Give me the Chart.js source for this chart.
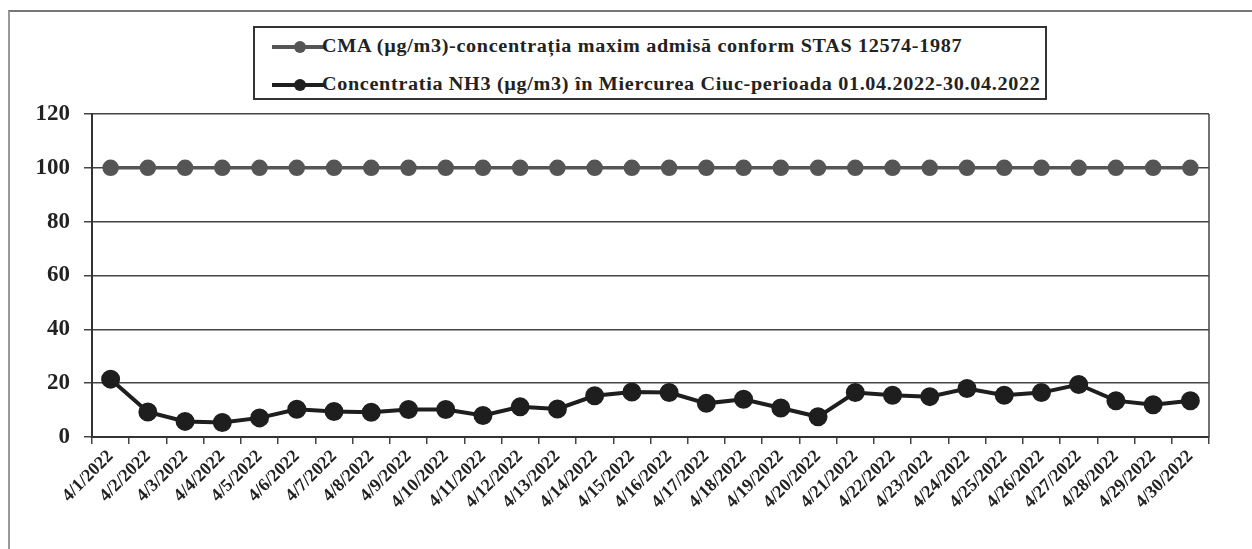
<!DOCTYPE html>
<html>
<head>
<meta charset="utf-8">
<script src="https://cdn.jsdelivr.net/npm/chart.js@4/dist/chart.umd.min.js"></script>
<style>
  html, body { margin: 0; padding: 0; background: #fff; }
  #wrap { position: relative; width: 1252px; height: 549px; overflow: hidden; background: #fff; }
  #frame { position: absolute; left: 8px; top: 10px; width: 1260px; height: 560px; border-top: 2px solid #777; border-left: 2px solid #999; }
  canvas { position: absolute; left: 0; top: 0; }
  #legend { position: absolute; left: 253px; top: 26px; width: 794px; height: 74px; box-sizing: border-box; border: 2px solid #333; background: #fff;
            font-family: "Liberation Serif", "Times New Roman", serif; font-weight: bold; font-size: 18px; color: #222; }
  .row { position: absolute; left: 0; height: 20px; width: 100%; }
  .ln { position: absolute; left: 17px; top: 8px; width: 52px; height: 4px; }
  .mk { position: absolute; left: 39px; top: 4px; width: 12px; height: 12px; border-radius: 50%; }
  .tx { position: absolute; left: 67px; top: -1px; white-space: nowrap; letter-spacing: 0.6px; transform: scaleX(1.12); transform-origin: left center; }
</style>
</head>
<body>
<div id="wrap">
  <div id="frame"></div>
  <canvas id="c" width="1252" height="549"></canvas>
  <div id="legend">
    <div class="row" style="top:9px"><div class="ln" style="background:#555"></div><div class="mk" style="background:#555"></div><div class="tx" id="t1"></div></div>
    <div class="row" style="top:47px"><div class="ln" style="background:#1e1e1e"></div><div class="mk" style="background:#1e1e1e"></div><div class="tx" id="t2"></div></div>
  </div>
</div>
<script>
const seriesNames = [
  "CMA (µg/m3)-concentrația maxim admisă conform STAS 12574-1987",
  "Concentratia NH3 (µg/m3) în Miercurea Ciuc-perioada 01.04.2022-30.04.2022"
];
const categories = ["4/1/2022","4/2/2022","4/3/2022","4/4/2022","4/5/2022","4/6/2022","4/7/2022","4/8/2022","4/9/2022","4/10/2022",
  "4/11/2022","4/12/2022","4/13/2022","4/14/2022","4/15/2022","4/16/2022","4/17/2022","4/18/2022","4/19/2022","4/20/2022",
  "4/21/2022","4/22/2022","4/23/2022","4/24/2022","4/25/2022","4/26/2022","4/27/2022","4/28/2022","4/29/2022","4/30/2022"];
const cmaValues = [100,100,100,100,100,100,100,100,100,100,100,100,100,100,100,100,100,100,100,100,100,100,100,100,100,100,100,100,100,100];
const nh3Values = [21.5,9.3,5.8,5.4,7.1,10.3,9.5,9.2,10.2,10.2,8.0,11.2,10.4,15.3,16.7,16.5,12.5,14.0,10.8,7.5,16.5,15.5,15.0,18.0,15.5,16.5,19.5,13.5,12.0,13.5];
const yTicks = [0,20,40,60,80,100,120];

document.getElementById('t1').textContent = seriesNames[0];
document.getElementById('t2').textContent = seriesNames[1];

const frameBox = {
  id: 'frameBox',
  afterDraw(chart) {
    const a = chart.chartArea, ctx = chart.ctx;
    ctx.save();
    ctx.strokeStyle = '#444';
    ctx.lineWidth = 1.5;
    ctx.beginPath();
    ctx.moveTo(a.right, a.top); ctx.lineTo(a.right, a.bottom);
    ctx.stroke();
    ctx.restore();
  }
};

new Chart(document.getElementById('c'), {
  type: 'line',
  data: {
    labels: categories,
    datasets: [
      { label: seriesNames[0], data: cmaValues, borderColor: '#555', backgroundColor: '#555', pointBackgroundColor: '#555', pointBorderColor: '#555',
        borderWidth: 3.5, pointRadius: 6.5, tension: 0 },
      { label: seriesNames[1], data: nh3Values, borderColor: '#1e1e1e', backgroundColor: '#1e1e1e', pointBackgroundColor: '#1e1e1e', pointBorderColor: '#1e1e1e',
        borderWidth: 4, pointRadius: 7.5, tension: 0 }
    ]
  },
  options: {
    responsive: false,
    animation: false,
    devicePixelRatio: 1,
    layout: { padding: { top: 114, right: 43, left: 0, bottom: 0 } },
    plugins: { legend: { display: false }, tooltip: { enabled: false } },
    scales: {
      x: {
        offset: true,
        grid: { offset: true, drawOnChartArea: false, drawTicks: true, tickLength: 7, color: '#444', lineWidth: 1.5 },
        border: { color: '#333', width: 2 },
        ticks: { minRotation: 45, maxRotation: 45, autoSkip: false, color: '#222', padding: 2,
                 font: { family: '"Liberation Serif", serif', weight: 'bold', size: 18 } },
        afterFit(s) { s.height = 112; }
      },
      y: {
        min: 0, max: 120,
        afterBuildTicks(s) { s.ticks = yTicks.map(v => ({ value: v })); },
        grid: { color: '#444', lineWidth: 1.5, tickLength: 8 },
        border: { color: '#333', width: 2 },
        ticks: { color: '#222', padding: 14, font: { family: '"Liberation Serif", serif', weight: 'bold', size: 23 } },
        afterFit(s) { s.width = 92; }
      }
    }
  },
  plugins: [frameBox]
});
</script>
</body>
</html>
